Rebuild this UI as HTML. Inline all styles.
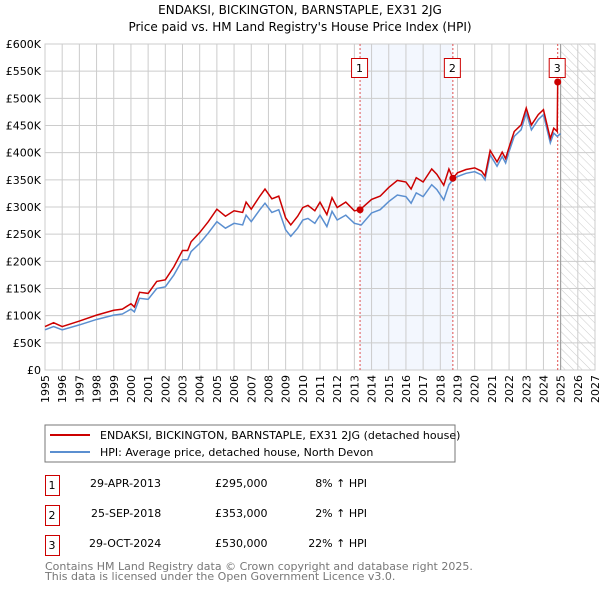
<!DOCTYPE html>
<html><head><meta charset="utf-8"><style>
body{margin:0;background:#fff;width:600px;height:590px;overflow:hidden;font-family:"DejaVu Sans","Liberation Sans",sans-serif;}
svg{position:absolute;left:0;top:0}
</style></head><body>
<svg id="c" width="600" height="590">
<defs><pattern id="hatch" width="6" height="6" patternUnits="userSpaceOnUse" patternTransform="rotate(-45)"><line x1="0" y1="0" x2="0" y2="6" stroke="#ccc" stroke-width="1"/></pattern></defs>
<text x="300" y="14" text-anchor="middle" font-size="12">ENDAKSI, BICKINGTON, BARNSTAPLE, EX31 2JG</text>
<text x="300" y="31" text-anchor="middle" font-size="12">Price paid vs. HM Land Registry's House Price Index (HPI)</text>
<g id="g"></g>
<rect x="45" y="425" width="410" height="37" fill="none" stroke="#777"/>
<line x1="50" y1="435" x2="90" y2="435" stroke="#cc0000" stroke-width="2"/>
<text x="100" y="439" font-size="11">ENDAKSI, BICKINGTON, BARNSTAPLE, EX31 2JG (detached house)</text>
<line x1="50" y1="452" x2="90" y2="452" stroke="#5b8fd0" stroke-width="2"/>
<text x="100" y="456" font-size="11">HPI: Average price, detached house, North Devon</text>
<g font-size="11">
<rect x="45.5" y="475.5" width="14" height="20" fill="none" stroke="#cc0000"/><text x="52" y="489" text-anchor="middle">1</text>
<text x="90" y="487">29-APR-2013</text><text x="215" y="487">£295,000</text><text x="367" y="487" text-anchor="end">8% ↑ HPI</text>
<rect x="45.5" y="505.5" width="14" height="20" fill="none" stroke="#cc0000"/><text x="52" y="519" text-anchor="middle">2</text>
<text x="91" y="517">25-SEP-2018</text><text x="215" y="517">£353,000</text><text x="367" y="517" text-anchor="end">2% ↑ HPI</text>
<rect x="45.5" y="535.5" width="14" height="20" fill="none" stroke="#cc0000"/><text x="52" y="549" text-anchor="middle">3</text>
<text x="89" y="547">29-OCT-2024</text><text x="215" y="547">£530,000</text><text x="367" y="547" text-anchor="end">22% ↑ HPI</text>
</g>
<text x="45" y="570" font-size="11" fill="#777">Contains HM Land Registry data © Crown copyright and database right 2025.</text>
<text x="45" y="580" font-size="11" fill="#777">This data is licensed under the Open Government Licence v3.0.</text>
</svg>
<script>
const years=[1995,1995.5,1996,1997,1998,1999,1999.5,2000,2000.2,2000.5,2001,2001.5,2002,2002.5,2003,2003.3,2003.5,2004,2004.5,2005,2005.5,2006,2006.5,2006.7,2007,2007.5,2007.8,2008.2,2008.6,2009,2009.3,2009.7,2010,2010.3,2010.7,2011,2011.4,2011.7,2012,2012.5,2013,2013.4,2014,2014.5,2015,2015.5,2016,2016.3,2016.6,2017,2017.5,2017.8,2018.2,2018.5,2018.8,2019,2019.5,2020,2020.4,2020.6,2020.9,2021.3,2021.6,2021.8,2022,2022.3,2022.7,2023,2023.3,2023.7,2024,2024.4,2024.6,2024.8,2025];
const hpi=[74,80,74,83,93,101,103,112,107,132,130,150,153,175,203,203,218,233,252,273,261,270,267,285,273,295,307,290,295,258,246,261,276,279,270,285,264,292,276,285,270,267,289,295,310,322,319,307,326,319,341,332,313,341,353,356,362,365,359,350,396,375,393,381,402,430,442,473,442,461,470,418,436,430,435];
const redYears=[1995,1995.5,1996,1997,1998,1999,1999.5,2000,2000.2,2000.5,2001,2001.5,2002,2002.5,2003,2003.3,2003.5,2004,2004.5,2005,2005.5,2006,2006.5,2006.7,2007,2007.5,2007.8,2008.2,2008.6,2009,2009.3,2009.7,2010,2010.3,2010.7,2011,2011.4,2011.7,2012,2012.5,2013,2013.33,2014,2014.5,2015,2015.5,2016,2016.3,2016.6,2017,2017.5,2017.8,2018.2,2018.5,2018.73,2019,2019.5,2020,2020.4,2020.6,2020.9,2021.3,2021.6,2021.8,2022,2022.3,2022.7,2023,2023.3,2023.7,2024,2024.4,2024.6,2024.8,2024.83];
const red=[80,87,80,90,101,110,112,122,116,143,141,163,166,190,220,220,236,253,273,296,283,293,290,309,296,320,333,315,320,280,267,283,299,303,293,309,286,317,299,309,293,295,314,320,336,349,346,333,354,346,370,360,340,370,353,363,369,372,366,357,404,383,401,389,410,439,451,482,451,470,479,426,445,439,530];
const sales=[[2013.33,295,"1"],[2018.73,353,"2"],[2024.83,530,"3"]];
const yTicks=[0,50,100,150,200,250,300,350,400,450,500,550,600];
const x0=45,x1=595,y0=370,y1=44;
const X=t=>x0+(t-1995)/32*(x1-x0);
const Y=v=>y0-v/600*(y0-y1);
const NS="http://www.w3.org/2000/svg",g=document.getElementById('g');
function el(tag,attrs,name){const e=document.createElementNS(NS,tag);for(const k in attrs)e.setAttribute(k,attrs[k]);


g.appendChild(e);return e;}
el('rect',{x:X(2013.33),y:y1,width:X(2018.73)-X(2013.33),height:y0-y1,fill:'#eef3fd',opacity:0.7},'shaded-ownership-period');
el('rect',{x:X(2025),y:y1,width:x1-X(2025),height:y0-y1,fill:'url(#hatch)'},'future-hatch');
yTicks.forEach(v=>{el('line',{x1:x0,x2:x1,y1:Y(v),y2:Y(v),stroke:'#ccc'},'y-gridline');
const t=el('text',{x:x0-4,y:Y(v)+4,'text-anchor':'end','font-size':11},'y-tick-label');t.textContent=v===0?'£0':'£'+v+'K';});
for(let yr=1995;yr<=2027;yr++){el('line',{x1:X(yr),x2:X(yr),y1:y1,y2:y0,stroke:'#ccc'},'x-gridline');
const t=el('text',{x:0,y:0,'text-anchor':'end','font-size':11,transform:`translate(${X(yr)+4},${y0+5}) rotate(-90)`},'x-tick-label');t.textContent=yr;}
el('rect',{x:x0,y:y1,width:x1-x0,height:y0-y1,fill:'none',stroke:'#ccc'},'plot-border');
el('line',{x1:X(2025),x2:X(2025),y1:y1,y2:y0,stroke:'#999'},'today-line');
sales.forEach(s=>{el('line',{x1:X(s[0]),x2:X(s[0]),y1:y1,y2:y0,stroke:'#e05050','stroke-dasharray':'2,2'},'sale-marker-line');});
el('polyline',{points:years.map((t,i)=>X(t)+','+Y(hpi[i])).join(' '),fill:'none',stroke:'#5b8fd0','stroke-width':1.5},'hpi-line');
el('polyline',{points:redYears.map((t,i)=>X(t)+','+Y(red[i])).join(' '),fill:'none',stroke:'#cc0000','stroke-width':1.5},'property-price-line');
sales.forEach(s=>{el('circle',{cx:X(s[0]),cy:Y(s[1]),r:3.5,fill:'#cc0000'},'sale-point');
el('rect',{x:X(s[0])-8.5,y:58.5,width:16,height:19,fill:'#fff',stroke:'#cc0000'},'sale-label-box');
const t=el('text',{x:X(s[0])-0.5,y:72,'text-anchor':'middle','font-size':11},'sale-label');t.textContent=s[2];});
</script>
</body></html>
